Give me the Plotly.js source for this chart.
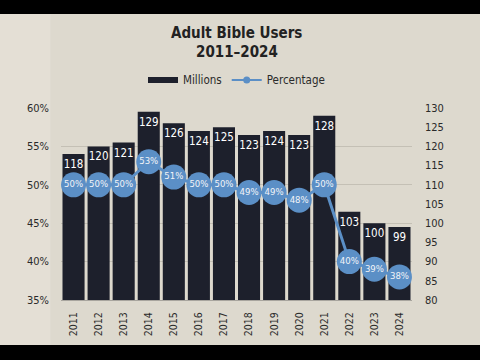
<!DOCTYPE html>
<html>
<head>
<meta charset="utf-8">
<script src="https://cdn.plot.ly/plotly-3.0.1.min.js"></script>
<style>
html,body{margin:0;padding:0;background:#000;width:480px;height:360px;overflow:hidden;}
#chart{position:absolute;left:0;top:14px;width:480px;height:331px;}
</style>
</head>
<body>
<div id="chart"></div>
<script>
const years = ["2011","2012","2013","2014","2015","2016","2017","2018","2019","2020","2021","2022","2023","2024"];
const millions = [118,120,121,129,126,124,125,123,124,123,128,103,100,99];
const percentage = [50,50,50,53,51,50,50,49,49,48,50,40,39,38];
const leftTicks = [35,40,45,50,55,60];
const rightTicks = [80,85,90,95,100,105,110,115,120,125,130];
const titleLines = ['Adult Bible Users', '2011–2024'];

const FONT = '"Liberation Sans Narrow", "DejaVu Sans Condensed", "Liberation Sans", Arial, sans-serif';
const barColor = '#1d202c';
const blue = '#5b8fc6';

const data = [
  {
    type: 'bar', x: years, y: millions, yaxis: 'y', name: 'Millions', showlegend: false,
    marker: {color: barColor},
    text: millions.map(String), textposition: 'inside', insidetextanchor: 'end',
    textangle: 0, constraintext: 'none',
    textfont: {color: '#ffffff', size: 11.5, family: FONT},
    hoverinfo: 'skip'
  },
  {
    type: 'scatter', mode: 'lines+markers+text', x: years, y: percentage, yaxis: 'y2',
    name: 'Percentage', showlegend: false,
    line: {color: blue, width: 3},
    marker: {color: blue, size: 25},
    text: percentage.map(v => v + '%'), textposition: 'middle center',
    textfont: {color: '#f2f4f8', size: 9.5, family: FONT},
    cliponaxis: false, hoverinfo: 'skip'
  },
  { type: 'scatter', mode: 'lines', x: [years[0]], y: [null], name: 'Millions', yaxis: 'y',
    line: {color: barColor, width: 6} },
  { type: 'scatter', mode: 'lines+markers', x: [years[0]], y: [null], name: 'Percentage', yaxis: 'y2',
    line: {color: blue, width: 2}, marker: {color: blue, size: 7} }
];

const layout = {
  width: 480, height: 331,
  margin: {l: 61, r: 68, t: 94, b: 45},
  paper_bgcolor: '#ddd9ce',
  plot_bgcolor: 'rgba(0,0,0,0)',
  font: {family: FONT, color: '#2a2a2a', size: 11},
  barmode: 'overlay',
  showlegend: true,
  legend: {
    orientation: 'h', x: 0.5, xanchor: 'center', y: 1.146, yanchor: 'middle',
    font: {family: FONT, size: 11.5, color: '#2a2a2a'}, bgcolor: 'rgba(0,0,0,0)',
    itemwidth: 30, traceorder: 'normal'
  },
  bargap: 0.12,
  xaxis: {
    type: 'category', range: [-0.5, 13.5], tickangle: -90, showgrid: false, showline: true,
    linecolor: '#a8a59e', linewidth: 1, ticks: '', tickfont: {size: 10.5, family: FONT, color: '#2a2a2a'},
    zeroline: false, ticklabelstandoff: 7
  },
  yaxis: {
    side: 'right', range: [80, 130], tickvals: rightTicks, ticktext: rightTicks.map(String),
    showgrid: false, zeroline: false, ticks: '', tickfont: {size: 11, family: FONT, color: '#2a2a2a'},
    ticklabelstandoff: 12
  },
  yaxis2: {
    overlaying: 'y', side: 'left', range: [35, 60], tickvals: leftTicks,
    ticktext: leftTicks.map(v => v + '%'), showgrid: true, gridcolor: 'rgba(150,145,135,0.35)',
    zeroline: false, ticks: '', tickfont: {size: 11, family: FONT, color: '#2a2a2a'},
    ticklabelstandoff: 11
  },
  annotations: [
    {text: '<b>' + titleLines[0] + '</b>', xref: 'paper', yref: 'paper', x: 0.5, y: 1.39,
     xanchor: 'center', yanchor: 'middle', showarrow: false, font: {family: FONT, size: 15, color: '#222'}},
    {text: '<b>' + titleLines[1] + '</b>', xref: 'paper', yref: 'paper', x: 0.5, y: 1.29,
     xanchor: 'center', yanchor: 'middle', showarrow: false, font: {family: FONT, size: 15, color: '#222'}}
  ],
  shapes: [
    {type: 'rect', xref: 'paper', yref: 'paper', x0: -0.2, x1: -0.03, y0: -0.3, y1: 1.6,
     fillcolor: 'rgba(240,236,226,0.35)', line: {width: 0}, layer: 'below'}
  ]
};

Plotly.newPlot('chart', data, layout, {displayModeBar: false, staticPlot: true});
</script>
</body>
</html>
